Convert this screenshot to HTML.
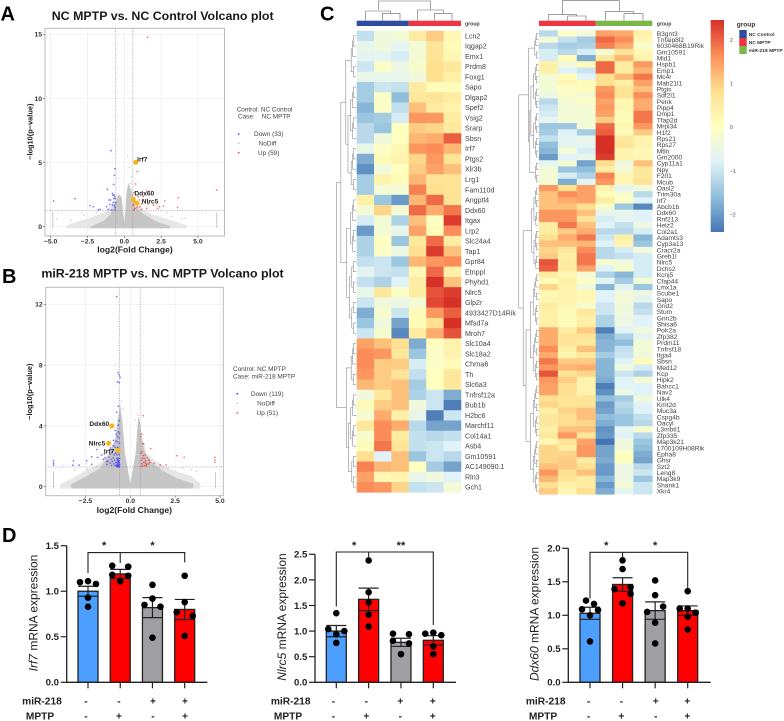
<!DOCTYPE html>
<html lang="en">
<head>
<meta charset="utf-8">
<title>Volcano plots, heatmaps and mRNA expression</title>
<style>
html,body{margin:0;padding:0;background:#fff;width:784px;height:721px;overflow:hidden}
svg{display:block;filter:blur(.35px);font-family:"Liberation Sans",sans-serif}
.panel{font-weight:700;font-size:20px;fill:#000}
.vt{font-weight:700;font-size:12.4px;fill:#1a1a1a;text-anchor:middle}
.leg{font-size:6.4px;fill:#444}
.glab{font-weight:700;font-size:6.6px;fill:#222}
</style>
</head>
<body>
<svg id="figure" xmlns="http://www.w3.org/2000/svg" width="784" height="721" viewBox="0 0 784 721">
  <text class="panel" x="0.5" y="20.7">A</text>
  <text class="panel" x="2" y="283">B</text>
  <text class="panel" x="320" y="20.7">C</text>
  <text class="panel" x="2" y="542">D</text>
  <text class="vt" x="162.7" y="20">NC MPTP vs. NC Control Volcano plot</text>
  <text class="vt" x="162.5" y="277.5">miR-218 MPTP vs. NC MPTP Volcano plot</text>

  <g>
    <text class="leg" x="236.7" y="111.5">Control: NC Control</text>
    <text class="leg" x="238" y="118.5" xml:space="preserve">Case:    NC MPTP</text>
    <circle cx="238.7" cy="134" r="0.9" fill="#4444ff"/>
    <text class="leg" x="268.7" y="136.2" text-anchor="middle">Down (33)</text>
    <circle cx="238.7" cy="143.3" r="0.9" fill="#c4c4c4"/>
    <text class="leg" x="267.5" y="145.5" text-anchor="middle">NoDiff</text>
    <circle cx="238.7" cy="152.7" r="0.9" fill="#ff4444"/>
    <text class="leg" x="268.7" y="154.9" text-anchor="middle">Up (59)</text>
  </g>
  <g>
    <text class="leg" x="233" y="371.2">Control: NC MPTP</text>
    <text class="leg" x="233" y="378.5">Case: miR-218 MPTP</text>
    <circle cx="237.3" cy="393.7" r="0.9" fill="#4444ff"/>
    <text class="leg" x="267.3" y="395.9" text-anchor="middle">Down (119)</text>
    <circle cx="237.3" cy="403.3" r="0.9" fill="#c4c4c4"/>
    <text class="leg" x="266" y="405.5" text-anchor="middle">NoDiff</text>
    <circle cx="237.3" cy="413" r="0.9" fill="#ff4444"/>
    <text class="leg" x="267.3" y="415.2" text-anchor="middle">Up (51)</text>
  </g>

  <g>
    <text x="736.7" y="26.5" font-size="6.6" font-weight="700" fill="#333">group</text>
    <rect x="739.3" y="30" width="7.4" height="8" fill="#2f4da0"/>
    <rect x="739.3" y="38" width="7.4" height="8" fill="#ee3540"/>
    <rect x="739.3" y="46" width="7.4" height="8" fill="#7ab648"/>
    <text x="748.7" y="36" font-size="4.9" font-weight="700" fill="#333">NC Control</text>
    <text x="748.7" y="44" font-size="4.9" font-weight="700" fill="#333">NC MPTP</text>
    <text x="748.7" y="52" font-size="4.9" font-weight="700" fill="#333">miR-218 MPTP</text>
  </g>
  <g id="layer"></g>
</svg>

<script>
/* ---------- Volcano A data (log2FC, -log10 p) ---------- */
const volcanoAxTicks = [-5, -2.5, 0, 2.5, 5];
const volcanoAyTicks = [0, 5, 10, 15];
const volcanoAOuterX = [-3.9,-3,-2.3,-1.6,-1.1,-0.8,-0.6,-0.34,-0.18,-0.1,0,0.08,0.14,0.27,0.42,0.6,0.8,1.3,2,2.8,3.5,4.2,4.2,-3.9];
const volcanoAOuterY = [0.1,0.45,0.7,1,1.3,1.8,2.2,2.5,2.3,1.3,0.3,1.3,2.6,3.43,3,2.5,1.8,1.3,0.9,0.65,0.4,0.1,-0.12,-0.12];
const volcanoACoreX = [-2.3,-1.4,-0.95,-0.65,-0.47,-0.34,-0.18,-0.1,0,0.08,0.14,0.27,0.42,0.56,0.72,1.28,2.2,3.1,3.1,-2.3];
const volcanoACoreY = [0,0.45,0.95,1.75,2.34,2.5,2.3,1.3,0.3,1.3,2.6,3.43,3,2.5,1.6,1,0.4,0.05,-0.12,-0.12];
const volcanoAStripsX = [-4.85, 6.27];
const volcanoAStripsTop = [1.2, 1.1];
const volcanoASpecksX = [0.2,0.35,-1.9,-2.7,-3.6,-4.6,3.2,3.9,4.1,2.9,-0.42,0.5,0.42];
const volcanoASpecksY = [5.5,4.6,1.1,0.9,0.5,0.6,0.8,0.6,0.7,1.1,3.8,3.9,3.4];
const volcanoADownX = [-4.8,-3.35,-2.33,-2.1,-1.76,-1.65,-1.2,-1.09,-0.97,-0.93,-1.15,-0.9,-0.63,-0.68,-0.72,-0.81,-0.7,-0.63,-0.75,-0.59,-0.86,-0.63,-1.04,-0.72,-0.65,-0.78,-0.62,-0.68,-0.8];
const volcanoADownY = [2,2.18,1.64,1.56,1.3,1.35,1.56,1.35,1.74,2.08,2.91,5.93,4.52,4,3.3,2.6,2.47,2.2,1.9,1.87,1.3,1.3,2.08,2.2,2.35,2.45,1.5,1.65,1.7];
const volcanoAUpX = [1.58,6.27,0.88,0.77,3.66,3.62,2.74,2.65,2.38,2.28,1.52,1.29,0.95,0.66,1.06,1.18,1.63,0.72,0.88,0.61,1.52,1.97,1.15,0.7,1.02,0.66];
const volcanoAUpY = [14.77,2.86,4.29,3.33,2.26,1.5,2,1.61,1.56,1.43,2.78,2.34,2.34,2.65,1.56,1.77,1.77,1.43,1.5,1.69,1.43,1.69,1.35,1.95,2.08,1.3];
const volcanoAGenes = ['Irf7','Ddx60','Nlrc5'];
const volcanoAGeneX = [0.77,0.61,0.86];
const volcanoAGeneY = [5.02,2.13,1.82];

/* ---------- Volcano B data ---------- */
const volcanoBxTicks = [-2.5, 0, 2.5, 5];
const volcanoByTicks = [0, 4, 8, 12];
const volcanoBOuterX = [-3.9,-3,-2.3,-1.7,-1.2,-0.85,-0.72,-0.57,-0.45,-0.3,-0.12,0,0.12,0.3,0.4,0.45,0.55,0.65,0.9,1.4,2,2.8,3.4,3.9,3.9,-3.9];
const volcanoBOuterY = [0.15,0.7,1.2,1.5,2.2,3.1,4.2,5.4,4.4,2.2,1,0.2,1,2.2,4,4.6,4.2,3.3,2.2,1.7,1.3,0.9,0.7,0.2,-0.12,-0.12];
const volcanoBCoreX = [-3.3,-2.6,-1.7,-1.15,-0.85,-0.72,-0.57,-0.45,-0.3,-0.12,0,0.12,0.3,0.4,0.45,0.55,0.6,0.82,1.27,1.8,2.6,3.5,3.5,-3.3];
const volcanoBCoreY = [0.15,0.6,1.2,2.2,3.1,4.2,5.4,4.4,2.2,1,0.2,1,2.2,4,4.6,4.2,3.3,2.2,1.5,1.05,0.55,0.2,-0.12,-0.12];
const volcanoBStripsX = [-4.28, 4.75];
const volcanoBStripsTop = [1, 0.95];
const volcanoBSpecksX = [-3.7,-3.1,-2.4,-1.9,-1.5,1.6,2.1,2.9,3.4,3.7,0.28,0.42,-0.4,-0.5];
const volcanoBSpecksY = [1.4,1.1,1.15,1.35,1.8,1.25,1.2,1.2,1.1,1.0,4.4,4.7,5.1,5.6];
const volcanoBDownX = [-0.76,-0.67,-0.61,-0.72,-0.63,-0.57,-0.67,-0.76,-0.63,-0.67,-0.85,-0.67,-0.94,-1.87,-2.15,-2.43,-3.17,-3.2,-4.28,-4.28,-4.28,-2.85,-2.15,-1.83,-1.6,-1.5,-1.3,-1.13,-0.62,-0.65,-0.68,-0.72,-0.6,-0.63,-0.7,-0.75,-0.78,-0.62,-0.66,-0.72,-0.6,-0.68,-0.75,-0.82,-0.85,-0.88,-0.92,-0.95,-1,-1.05,-1.05,-1.12,-1.18,-1.25,-1.3,-1.4,-1.45,-0.62,-0.68,-0.75,-0.82,-0.9,-1,-1.1,-0.65,-0.72,-0.85,-0.95,-0.6,-0.7,-0.8,-0.63,-0.7,-0.6,-0.78,-0.61,-0.66,-0.71,-0.64,-0.69,-0.74];
const volcanoBDownY = [12.5,7.5,7.35,6.9,6.85,7.2,5.3,4.9,4.35,4.05,3.7,3.6,3.05,2.45,1.97,1.7,1.7,1.42,1.7,1.55,1.42,1.42,1.47,1.93,2.08,1.8,1.64,2.15,1.3,1.35,1.4,1.3,1.45,1.55,1.5,1.45,1.35,1.7,1.65,1.7,1.85,1.9,1.85,1.6,1.4,1.75,1.5,1.9,1.65,1.4,1.8,1.55,1.95,1.7,1.45,1.9,2.15,2.1,2.25,2.1,2.2,2.1,2.3,2.55,2.55,2.6,2.6,2.7,2.85,2.95,3,3.2,3.3,3.5,3.45,1.32,1.42,1.38,1.6,1.78,1.58];
const volcanoBUpX = [0.72,0.62,0.58,0.68,0.75,1.14,2.6,3,4.72,4.72,4.72,1.67,2,1.32,1.08,0.6,0.65,0.7,0.75,0.8,0.62,0.68,0.72,0.6,0.78,0.85,0.9,0.95,0.82,0.65,0.9,1,1.05,0.85];
const volcanoBUpY = [4.67,3.46,3.3,2.85,2.8,2.5,2.04,1.93,1.93,1.77,1.62,1.43,1.43,1.53,1.6,1.35,1.5,1.35,1.6,1.4,1.75,1.9,2.05,2.2,1.85,1.7,1.45,1.9,2.1,2.3,1.35,1.5,1.75,1.55];
const volcanoBGenes = ['Ddx60','Nlrc5','Irf7'];
const volcanoBGeneX = [-1.03,-1.21,-0.68];
const volcanoBGeneY = [4,2.85,2.39];

/* ---------- Heatmap data ---------- */
const heatLeftGenes = ['Lcn2','Iqgap2','Emx1','Prdm8','Foxg1','Sapo','Dlgap2','Spef2','Vsig2','Srarp','Sbsn','Irf7','Ptgs2','Xlr3b','Lrg1','Fam110d','Angptl4','Ddx60','Itgax','Lrp2','Slc24a4','Tap1','Gpr84','Etnppl','Phyhd1','Nlrc5','Glp2r','4933427D14Rik','Mfsd7a','Mroh7','Slc10a4','Slc18a2','Chrna6','Th','Slc6a3','Tnfrsf12a','Bub1b','H2bc6','Marchf11','Col14a1','Asb4','Gm10591','AC149090.1','Rln3','Gch1'];
const heatLeftValues = [
[-1.1,-.4,-.3,.5,1,.2],[-.6,-.4,-.7,-.3,.7,.1],[-.7,-.7,-.9,-.3,.7,.2],[-1,-.1,-.5,-.2,.8,.6],[-.6,-.6,-.6,-.4,.8,.4],
[-1.4,-1,-1.1,.5,.1,.1],[-1.4,-.1,-1.6,.6,.7,.5],[-1.7,-.1,-1.1,1.1,.5,.3],[-1.5,-1.4,-.9,1.5,1.5,.5],[-1.2,-1.5,0,1,.9,.6],
[-1.2,-.4,0,1.2,1.3,2],[-.6,-.1,.2,1.5,1.6,1.2],[-1.8,.1,.3,.9,1.5,.7],[-2.1,-.4,0,1,1.4,1.1],[-1.4,.3,.1,1.2,.7,.7],
[-1.4,-.3,-.3,1.7,.8,.7],[.4,-1.5,-2,1.2,1.9,.7],[-.3,.9,-.3,1.9,1.3,1.8],[-.9,-.3,-1.3,1.1,0,2.3],[-2,-.3,-.6,1.4,.1,1.6],
[-1.3,0,-1.5,.6,1.9,.5],[-1.3,-.1,-.5,.8,2.3,1.1],[-1.1,-1,-1.5,1.2,1.5,1.6],[-.7,-1,-1.1,.2,1.9,.4],[-1.1,-1.3,-.8,.5,2.4,1.1],
[-.6,.6,-.1,.5,2.1,2.3],[-1,-.4,-.5,-.3,2.2,2.4],[-1.8,-.2,-1,.1,1.5,2],[-1.5,-.4,-1.9,.1,.8,2.4],[-1,-.2,-2.2,.5,1.3,2.1],
[1.4,1.1,.8,-1.8,0,.3],[1.6,1.5,.6,-1.5,-.1,.3],[1.6,1,1,-.9,-.1,.1],[1.5,1,.7,-1.1,0,.6],[1.2,1,1.1,-1.4,0,.6],
[-.4,.6,1.1,-1.3,-1,-1.8],[.1,1,1.1,-.4,-1,-2.3],[-.2,1.3,.4,-.6,-2.3,-1],[.6,1.6,1.3,-1.2,-1.9,-1.9],[-.2,1.6,.5,-1.1,-1.2,-1.1],
[.1,1.8,.7,-1.1,-1,-.8],[.8,-.8,1.1,-1.5,-1,-1.2],[1.7,1.2,1.1,0,-1.4,-1.9],[1.4,.2,.3,-.6,-.4,-.8],[1.6,1.5,.9,-1.1,-1,-.3]];
const heatRightGenes = ['B3gnt3','Tnfaip8l2','6030468B19Rik','Gm10591','Mid1','Hspb1','Emp1','Mc4r','Mab21l1','Ptgis','Sdf2l1','Penk','Pipp4','Dmp1','Tfap2d','Mrpl34','H1f2','Rps21','Rps27','Mtln','Gm2000','Cyp11a1','Npy','F2rl1','Mcub','Oasl2','Trim30a','Irf7','Abcb1b','Ddx60','Rnf213','Helz2','Col2a1','Adamts3','Cyp3a13','Cracr2a','Greb1l','Nlrc5','Dchs2','Kcnj5','Cfap44','Lmx1a','Scube1','Sapo','Grid2','Stum','Grin2b','Shisa6','Polr2a','Zfp382','Prdm11','Tnfrsf18','Itga4','Sbsn','Med12','Kcp','Hipk2','Bahcc1','Nav2','Ulk4','Kmt2d','Muc3a','Cspg4b','Oacyl','L3mbtl1','Zfp335','Map3k21','1700109H08Rik','Epha8','Ghsr','Szt2','Leng8','Map3k9','Shank1','Xkr4'];
const heatRightValues = [
[-1.2,-.1,-.4,1.4,1.3,.4],[-.3,-1.1,-1.4,1.9,1.6,.2],[-1.2,-1.4,-1.3,1.7,1.3,-.2],[-.9,-1.2,-.9,-.3,.7,.2],[-.9,.1,-1.8,.6,1.2,.3],
[.4,-.4,.1,1.9,.5,1.5],[.4,-.8,-1,1.9,.5,1.2],[-.3,.1,-.8,.8,1.2,1.8],[-.3,.2,.1,.8,.4,1.4],[-.3,-.1,.1,1.5,.7,1.1],
[-.5,-.1,-.3,1.6,.7,1.6],[-1.2,-.3,-.1,1.4,.2,1.3],[-1,-.3,-.3,1.5,.2,1.3],[-.9,-.3,-.3,1.4,.1,1.8],[-.7,-.3,-.3,1,.1,1.8],
[-1.5,-1.5,-.3,1.9,.2,1.5],[-1.4,-.8,-1.4,2,.1,1],[-1.1,-.7,-.6,2.4,.6,.3],[-1.6,-.7,-.7,2.4,.7,.3],[-1.7,-.3,-.9,2.4,.3,.2],
[-2,-.8,-.6,2.3,.3,.2],[-.7,-.3,-1.9,.8,-.4,1.1],[-.3,-1.5,-1.6,.5,-.3,.6],[-.3,-.9,-1.3,1.7,.2,.6],[-.3,-1.8,-.7,1.5,.2,.7],
[1.5,.8,1.4,.3,-.7,-.4],[1.1,1.6,1.4,.1,-.2,-1.2],[1.1,1.3,1.4,.5,-.1,-.8],[1.1,1.1,.8,-.2,-1.5,-2.2],[1.5,1.5,1.1,-.6,-.6,-.8],
[1.5,1.5,.7,-.9,-.7,-.8],[.5,1.8,1.1,-.8,-1.1,-.5],[.5,1,1.3,-1.2,-1.2,-.9],[.8,1.3,1.8,-1,.4,-1.7],[1.1,1.1,1.2,-.8,.3,-1.5],
[.9,.6,1.6,-1.2,-.9,-.4],[1,.4,1.8,-1.2,-1.1,-.9],[2.1,.5,1.8,-.2,-.4,-.9],[2,.5,1.4,-.8,-.2,-.9],[.5,.2,-.3,-1.3,-1.7,-.9],
[.1,.4,-.1,-.7,-1.4,-.3],[.9,.3,-.4,-1.7,-.7,-1.5],[.2,.3,.2,-.8,-.4,-.5],[.2,.3,.2,-.8,-.3,-.7],[.5,.2,-.2,-1,-.4,-1.2],
[.4,.1,.6,-1,-.4,-1.1],[.4,.1,.4,-1.3,-.5,-.8],[.4,.1,.4,-1.3,-.5,-.8],[1.3,.5,1,-2.3,-.8,-.4],[1.3,.7,.7,-1.8,-1.3,-.7],
[1.3,.7,.6,-1.7,-1.6,-.3],[1.6,.4,1.1,-1.7,-1.1,-.3],[1.3,.3,.6,-1.4,-1,-.4],[1.8,1,1,-1.7,-.8,.1],[1.5,1.2,1.3,-1.7,-.4,-.9],
[2.1,.7,.9,-1.7,-1,-1.3],[1.5,1,.3,-1.8,-.8,-.3],[1.4,.8,.3,-2.3,-.8,-.8],[1.4,.8,.3,-2.1,-.5,-.8],[.8,.7,.7,-1.6,-1.4,-.4],
[.9,.7,.7,-2,-1.2,-.8],[.4,.9,1.1,-1.9,-1.3,-.8],[.6,.8,1.1,-1.6,-1.5,-1.1],[.6,.8,.9,-1.8,-1.5,-1.2],[.4,1.1,1.1,-2.1,-.7,-.2],
[.6,1.5,.7,-2,-.8,-1.2],[.2,.7,1.4,-2.4,-.4,-1.5],[.9,.5,1.5,-1.9,-.4,-1.6],[.9,.9,1.5,-1.9,0,-1.8],[.9,1,.5,-1.8,0,-1.9],
[1.1,1,.8,-2,-.5,-1.2],[1.5,.8,1.1,-2,-.5,-1],[1.2,.7,.5,-1.7,-.5,-1.5],[.8,.4,.5,-2,-.3,-1],[1,.2,.8,-1.8,-.7,-1]];
const colorbarTicks = [2, 1, 0, -1, -2];

/* ---------- Bar chart data ---------- */
const irf7Means = [1.0, 1.19, 0.82, 0.80];
const irf7Sem = [0.055, 0.05, 0.11, 0.11];
const irf7Dots = [[1.10,1.11,1.08,0.93,0.83],[1.28,1.27,1.18,1.17,1.11],[1.07,0.92,0.85,0.83,0.49],[1.17,0.77,0.88,0.73,0.51]];
const irf7Slots = [[-1,0,1,0,0],[-1,1,-1,1,0],[0,0,-1,1,0],[0,-1,0,1,0]];
const irf7Ticks = [0, 0.5, 1.0, 1.5];
const nlrc5Means = [1.0, 1.62, 0.78, 0.82];
const nlrc5Sem = [0.11, 0.22, 0.08, 0.09];
const nlrc5Dots = [[1.35,1.04,1.0,0.94,0.77],[2.38,1.76,1.56,1.32,1.09],[0.95,0.94,0.81,0.76,0.55],[0.95,0.97,0.92,0.70,0.55]];
const nlrc5Slots = [[0,-1,1,0,0],[0,0,0,0,0],[-1,1,-1,1,0],[-1,0,1,0,0]];
const nlrc5Ticks = [0, 0.5, 1.0, 1.5, 2.0, 2.5];
const ddx60Means = [1.03, 1.46, 1.07, 1.07];
const ddx60Sem = [0.09, 0.10, 0.13, 0.07];
const ddx60Dots = [[1.22,1.17,1.09,1.08,1.0,0.61],[1.82,1.69,1.39,1.42,1.32,1.18],[1.52,1.30,1.13,1.05,0.89,0.58],[1.36,1.10,1.10,1.04,0.98,0.79]];
const ddx60Slots = [[-0.5,0.5,-1,1,0,0],[0,0,-1,1,1,0],[0,0,1,-1,0,0],[0,-1,0,1,0,0]];
const ddx60Ticks = [0, 0.5, 1.0, 1.5, 2.0];
const miRSigns = ['-', '-', '+', '+'];
const mptpSigns = ['-', '+', '-', '+'];

/* ---------- Helpers ---------- */
const NS = 'http://www.w3.org/2000/svg';
const layer = document.getElementById('layer');
function shape(tag, attrs, name, parent) {
  const el = document.createElementNS(NS, tag);
  for (const k in attrs) el.setAttribute(k, attrs[k]);
  
  
  (parent || layer).appendChild(el);
  return el;
}
function label(str, x, y, attrs, name, parent) {
  const el = shape('text', Object.assign({x: x, y: y}, attrs), name, parent);
  el.textContent = str;
  return el;
}
function linear(d0, r0, d1, r1) { return v => r0 + (v - d0) * (r1 - r0) / (d1 - d0); }

/* ---------- Volcano drawing ---------- */
function drawVolcano(c) {
  const g = shape('g', {}, c.id, layer);
  const x = c.x, y = c.y;
  shape('rect', {x: c.box[0], y: c.box[1], width: c.box[2]-c.box[0], height: c.box[3]-c.box[1], fill: '#fff'}, c.id+'-panel', g);
  c.xTicks.forEach(t => {
    shape('line', {x1:x(t),x2:x(t),y1:c.box[1],y2:c.box[3],stroke:'#ececec','stroke-width':.7}, c.id+'-x-gridline', g);
  });
  c.yTicks.forEach(t => {
    shape('line', {x1:c.box[0],x2:c.box[2],y1:y(t),y2:y(t),stroke:'#ececec','stroke-width':.7}, c.id+'-y-gridline', g);
  });
  shape('polygon', {points: c.outerX.map((v,i)=>x(v)+','+y(c.outerY[i])).join(' '), fill:'#e6e6e6'}, c.id+'-nodiff-sparse-cloud', g);
  shape('polygon', {points: c.coreX.map((v,i)=>x(v)+','+y(c.coreY[i])).join(' '), fill:'#c6c6c6'}, c.id+'-nodiff-dense-cloud', g);
  c.stripX.forEach((v,i)=>{
    shape('line', {x1:x(v),x2:x(v),y1:y(-0.12),y2:y(c.stripTop[i]),stroke:'#c8c8c8','stroke-width':1}, c.id+'-nodiff-edge-strip', g);
  });
  c.speckX.forEach((v,i)=>{
    shape('circle', {cx:x(v),cy:y(c.speckY[i]),r:.7,fill:'#c8c8c8'}, c.id+'-nodiff-point', g);
  });
  [c.vA, c.vB].forEach(v=>{
    shape('line', {x1:x(v),x2:x(v),y1:c.box[1],y2:c.box[3],stroke:'#999','stroke-width':.7,'stroke-dasharray':'1.2 1.2'}, c.id+'-fold-threshold', g);
  });
  shape('line', {x1:c.box[0],x2:c.box[2],y1:y(c.h),y2:y(c.h),stroke:'#999','stroke-width':.7,'stroke-dasharray':'1.2 1.2'}, c.id+'-p-threshold', g);
  c.downX.forEach((v,i)=>{
    shape('circle', {cx:x(v),cy:y(c.downY[i]),r:.85,fill:'#3a3aff','fill-opacity':.7}, c.id+'-down-point', g);
  });
  c.upX.forEach((v,i)=>{
    shape('circle', {cx:x(v),cy:y(c.upY[i]),r:.85,fill:'#ff2d2d','fill-opacity':.7}, c.id+'-up-point', g);
  });
  c.genes.forEach((n,i)=>{
    shape('circle', {cx:x(c.geneX[i]),cy:y(c.geneY[i]),r:2.5,fill:'#fdb515'}, c.id+'-gene-point', g);
    label(n, c.labelX[i], c.labelY[i], {'font-size':6.6,'font-weight':700,fill:'#222','text-anchor':'middle'}, c.id+'-gene-label', g);
  });
  shape('rect', {x: c.box[0], y: c.box[1], width: c.box[2]-c.box[0], height: c.box[3]-c.box[1], fill:'none', stroke:'#bbb','stroke-width':1}, c.id+'-border', g);
  c.xTicks.forEach(t => {
    shape('line', {x1:x(t),x2:x(t),y1:c.box[3],y2:c.box[3]+2,stroke:'#555','stroke-width':.6}, c.id+'-x-tick', g);
    label(String(t.toFixed(1)).replace('-','\u2212'), x(t), c.box[3]+7.5, {'font-size':6.8,'font-weight':700,fill:'#333','text-anchor':'middle'}, c.id+'-x-tick-label', g);
  });
  c.yTicks.forEach(t => {
    shape('line', {x1:c.box[0]-2,x2:c.box[0],y1:y(t),y2:y(t),stroke:'#555','stroke-width':.6}, c.id+'-y-tick', g);
    label(String(t), c.box[0]-3, y(t)+2.4, {'font-size':6.8,'font-weight':700,fill:'#333','text-anchor':'end'}, c.id+'-y-tick-label', g);
  });
  label('log2(Fold Change)', c.xTitle[0], c.xTitle[1], {'font-size':8.6,'font-weight':700,fill:'#222','text-anchor':'middle'}, c.id+'-x-axis-title', g);
  label('\u2212log10(p\u2212value)', 0, 0, {'font-size':7.4,'font-weight':700,fill:'#222','text-anchor':'middle',transform:'translate('+c.yTitle[0]+','+c.yTitle[1]+') rotate(-90)'}, c.id+'-y-axis-title', g);
}
drawVolcano({
  id:'volcano-a', box:[45,28.3,224.5,236],
  x:linear(0,124.3,5,198), y:linear(0,226.7,15,34.3),
  xTicks:volcanoAxTicks, yTicks:volcanoAyTicks,
  outerX:volcanoAOuterX, outerY:volcanoAOuterY, coreX:volcanoACoreX, coreY:volcanoACoreY,
  stripX:volcanoAStripsX, stripTop:volcanoAStripsTop, speckX:volcanoASpecksX, speckY:volcanoASpecksY,
  downX:volcanoADownX, downY:volcanoADownY, upX:volcanoAUpX, upY:volcanoAUpY,
  genes:volcanoAGenes, geneX:volcanoAGeneX, geneY:volcanoAGeneY,
  labelX:[142.3,144.3,150], labelY:[161.6,195.6,203.3],
  vA:-0.58, vB:0.58, h:1.25, xTitle:[135,252.3], yTitle:[32.5,131.7]
});
drawVolcano({
  id:'volcano-b', box:[45.7,287.3,223.3,495.7],
  x:linear(0,130.3,5,220), y:linear(0,486.7,12,304.3),
  xTicks:volcanoBxTicks, yTicks:volcanoByTicks,
  outerX:volcanoBOuterX, outerY:volcanoBOuterY, coreX:volcanoBCoreX, coreY:volcanoBCoreY,
  stripX:volcanoBStripsX, stripTop:volcanoBStripsTop, speckX:volcanoBSpecksX, speckY:volcanoBSpecksY,
  downX:volcanoBDownX, downY:volcanoBDownY, upX:volcanoBUpX, upY:volcanoBUpY,
  genes:volcanoBGenes, geneX:volcanoBGeneX, geneY:volcanoBGeneY,
  labelX:[99.3,97,109], labelY:[426,445.6,453.6],
  vA:-0.6, vB:0.55, h:1.3, xTitle:[134.3,512.8], yTitle:[32,391.7]
});

/* ---------- Heatmaps ---------- */
const rampStops = ['#4575b4','#91bfdb','#e0f3f8','#ffffbf','#fee090','#fc8d59','#d73027'];
function heatColor(v) {
  const t = Math.max(0, Math.min(5.999, (v + 2.4) / 0.8));
  const i = Math.floor(t), f = t - i;
  const p = s => [1,3,5].map(k => parseInt(s.substr(k,2),16));
  const a = p(rampStops[i]), b = p(rampStops[i+1]);
  return 'rgb(' + a.map((c,k)=>Math.round(c+(b[k]-c)*f)).join(',') + ')';
}
function drawDendroRows(g, name, top, rowH, xLeaf, width, total, splits) {
  function walk(a, b) {
    if (a === b) return {x: xLeaf, y: top + (a + .5) * rowH};
    const m = splits[a + '-' + b] !== undefined ? splits[a + '-' + b] : a + Math.floor((b - a) / 2);
    const l = walk(a, m), r = walk(m + 1, b);
    const x = xLeaf - width * Math.pow((b - a + 1) / total, .62);
    shape('path', {d:'M'+l.x+' '+l.y+'H'+x+'V'+r.y+'H'+r.x, fill:'none', stroke:'#777','stroke-width':.5}, name, g);
    return {x: x, y: (l.y + r.y) / 2};
  }
  walk(0, total - 1);
}
function drawHeatmap(c) {
  const g = shape('g', {}, c.id, layer);
  const w = (c.x1 - c.x0) / 6, h = (c.y1 - c.y0) / c.values.length;
  c.values.forEach((row, r) => {
    row.forEach((v, k) => {
      shape('rect', {x:c.x0+k*w, y:c.y0+r*h, width:w+.3, height:h+.3, fill:heatColor(v)}, c.id+'-cell', g);
    });
    label(c.genes[r], c.labelX, c.y0+(r+.5)*h+c.fontSize*.36, {'font-size':c.fontSize, fill:'#444'}, c.id+'-gene-label', g);
  });
  const mid = (c.x0 + c.x1) / 2;
  shape('rect', {x:c.x0,y:20.7,width:mid-c.x0,height:5.3,fill:c.colors[0]}, c.id+'-group-bar-first', g);
  shape('rect', {x:mid,y:20.7,width:c.x1-mid,height:5.3,fill:c.colors[1]}, c.id+'-group-bar-second', g);
  label('group', c.labelX, 25.6, {'font-size':5.2,'font-weight':700,fill:'#444'}, c.id+'-group-label', g);
  c.topDendro.forEach(d => {
    shape('path', {d:d, fill:'none', stroke:'#666','stroke-width':.6}, c.id+'-column-dendrogram', g);
  });
  drawDendroRows(g, c.id+'-row-dendrogram', c.y0, h, c.x0-.5, c.x0-c.dendroLeft, c.values.length, c.splits);
}
drawHeatmap({
  id:'heatmap-left', genes:heatLeftGenes, values:heatLeftValues,
  x0:356.7, x1:461, y0:30.7, y1:492.3, labelX:465, fontSize:7.1,
  colors:['#2f4da0','#ee3540'], dendroLeft:337,
  splits:{'0-44':29,'0-29':15,'30-44':34,'0-15':4,'16-29':21,'35-44':40},
  topDendro:['M378.3 10V1H430.7V10','M365.7 20.7V11H390.7V13.3','M382.3 20.7V13.3H400V20.7','M417.3 20.7V10H443.3V13.3','M434.7 20.7V13.3H452V20.7']
});
drawHeatmap({
  id:'heatmap-right', genes:heatRightGenes, values:heatRightValues,
  x0:539, x1:652.3, y0:30.3, y1:494.3, labelX:656.7, fontSize:6.65,
  colors:['#ee3540','#7ab648'], dendroLeft:519.3,
  splits:{'0-74':24,'25-74':38,'0-24':4,'5-24':20},
  topDendro:['M562.3 14.7V.7H619.3V11.3','M548.3 20.7V14.7H576.7V16','M567.7 20.7V16H586V20.7','M605.3 20.7V11.3H633.3V13.7','M624 20.7V13.7H643V20.7']
});

/* colour bar */
const barDefs = shape('defs', {}, 'colorbar-defs', layer);
const grad = shape('linearGradient', {id:'cbar', x1:0, y1:1, x2:0, y2:0}, 'colorbar-gradient', barDefs);
rampStops.forEach((col, i) => {
  shape('stop', {offset:(i / 6 * 100)+'%', 'stop-color':col}, 'colorbar-stop', grad);
});
shape('rect', {x:710.7, y:20, width:13.3, height:212, fill:'url(#cbar)'}, 'colorbar', layer);
const cbarY = linear(0, 127.3, 2, 40);
colorbarTicks.forEach(t => {
  label(String(t).replace('-', '\u2212'), 730, cbarY(t)+1.8, {'font-size':5, fill:'#444'}, 'colorbar-tick-label', layer);
});

/* ---------- Bar charts ---------- */
const barFills = ['#4d9fff', '#ff0000', '#a0a0a4', '#ff0000'];
function drawBars(c) {
  const g = shape('g', {}, c.id, layer);
  const y = linear(0, 682.3, c.yTop, c.yTopPx);
  const x = linear(0, c.cx0, 3, c.cx3);
  c.means.forEach((m, i) => {
    shape('rect', {x:x(i)-10, y:y(m), width:20, height:y(0)-y(m), fill:barFills[i], stroke:'#222','stroke-width':1.3}, c.id+'-bar', g);
    shape('path', {d:'M'+(x(i)-10)+' '+y(m+c.sem[i])+'h20M'+x(i)+' '+y(m+c.sem[i])+'V'+y(m-c.sem[i])+'M'+(x(i)-10)+' '+y(m-c.sem[i])+'h20', fill:'none', stroke:'#222','stroke-width':1.2}, c.id+'-error-bar', g);
    c.dots[i].forEach((v, k) => {
      shape('circle', {cx:x(i)+c.slots[i][k]*8, cy:y(v), r:3.3, fill:'#000'}, c.id+'-data-point', g);
    });
    shape('line', {x1:x(i),x2:x(i),y1:682.3,y2:688.3,stroke:'#222','stroke-width':1.2}, c.id+'-x-tick', g);
    label(miRSigns[i], c.signX[i], 704.5, {'font-size':10.2,'font-weight':700,fill:'#222','text-anchor':'middle'}, c.id+'-mir-218-sign', g);
    label(mptpSigns[i], c.signX[i], 719.5, {'font-size':10.2,'font-weight':700,fill:'#222','text-anchor':'middle'}, c.id+'-mptp-sign', g);
  });
  shape('path', {d:'M'+c.axisX+' '+c.yTopPx+'V682.3H'+c.axisEnd, fill:'none', stroke:'#222','stroke-width':1.3}, c.id+'-axes', g);
  c.ticks.forEach(t => {
    shape('line', {x1:c.axisX-6,x2:c.axisX,y1:y(t),y2:y(t),stroke:'#222','stroke-width':1.2}, c.id+'-y-tick', g);
    label(t.toFixed(1), c.axisX-7.7, y(t)+3.4, {'font-size':9.6,'font-weight':700,fill:'#222','text-anchor':'end'}, c.id+'-y-tick-label', g);
  });
  const b = c.bracket;
  shape('path', {d:'M'+x(0)+' '+y(b.drop[0])+'V'+y(b.top)+'H'+x(3)+'V'+y(b.drop[2])+'M'+x(1)+' '+y(b.top)+'V'+y(b.drop[1]), fill:'none', stroke:'#222','stroke-width':1.1}, c.id+'-significance-bracket', g);
  b.stars.forEach((s, i) => {
    label(s, x(b.starAt[i]), 549, {'font-size':11,'font-weight':700,fill:'#222','text-anchor':'middle'}, c.id+'-significance-stars', g);
  });
  label('miR-218', c.rowLabelX[0], 704.5, {'font-size':10.2,'font-weight':700,fill:'#222','text-anchor':'middle'}, c.id+'-mir-218-label', g);
  label('MPTP', c.rowLabelX[1], 719.5, {'font-size':10.2,'font-weight':700,fill:'#222','text-anchor':'middle'}, c.id+'-mptp-label', g);
  const t = shape('text', {'font-size':12, fill:'#222','text-anchor':'middle',transform:'translate('+c.yLabel[0]+','+c.yLabel[1]+') rotate(-90)'}, c.id+'-y-axis-title', g);
  const it = shape('tspan', {'font-style':'italic'}, c.id+'-gene-name', t);
  it.textContent = c.gene;
  const rest = shape('tspan', {}, c.id+'-y-axis-unit', t);
  rest.textContent = ' mRNA expression';
}
drawBars({id:'irf7-chart', gene:'Irf7', means:irf7Means, sem:irf7Sem, dots:irf7Dots, slots:irf7Slots, ticks:irf7Ticks,
  yTop:1.5, yTopPx:545.7, cx0:88, cx3:184.7, axisX:66.7, axisEnd:207.3,
  signX:[86,119,153,185], rowLabelX:[42,40], yLabel:[37.5,613],
  bracket:{top:1.425, drop:[1.2,1.31,1.315], stars:['*','*'], starAt:[0.5,2]}});
drawBars({id:'nlrc5-chart', gene:'Nlrc5', means:nlrc5Means, sem:nlrc5Sem, dots:nlrc5Dots, slots:nlrc5Slots, ticks:nlrc5Ticks,
  yTop:2.5, yTopPx:554.3, cx0:336.3, cx3:433.3, axisX:315, axisEnd:456,
  signX:[333.3,366.3,400.3,432.7], rowLabelX:[290.7,288], yLabel:[286,617],
  bracket:{top:2.545, drop:[1.48,2.45,1.12], stars:['*','**'], starAt:[0.55,2]}});
drawBars({id:'ddx60-chart', gene:'Ddx60', means:ddx60Means, sem:ddx60Sem, dots:ddx60Dots, slots:ddx60Slots, ticks:ddx60Ticks,
  yTop:2, yTopPx:548.3, cx0:590, cx3:687.7, axisX:568.3, axisEnd:710.7,
  signX:[588.7,621.3,655.7,687.3], rowLabelX:[545.7,543], yLabel:[538.7,614],
  bracket:{top:1.94, drop:[1.25,1.85,1.4], stars:['*','*'], starAt:[0.5,2]}});
</script>
</body>
</html>
